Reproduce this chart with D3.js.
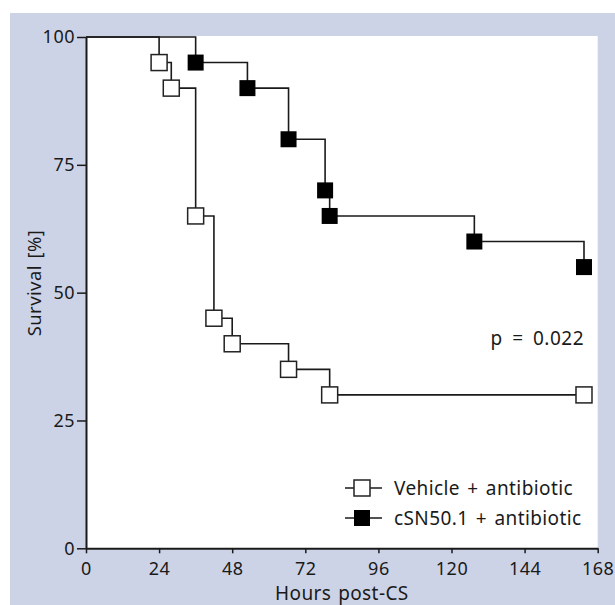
<!DOCTYPE html>
<html>
<head>
<meta charset="utf-8">
<script src="https://cdn.jsdelivr.net/npm/d3@7"></script>
<style>
  body { margin: 0; background: #fff; }
  text { font-family: "Noto Sans", sans-serif; fill: #1a1a1a; }
</style>
</head>
<body>
<div id="content"></div>
<script>
// Kaplan-Meier steps
const vehicleHours = [0, 24, 28, 36, 42, 48, 66.5, 80, 163.5];
const vehicleSurvival = [100, 95, 90, 65, 45, 40, 35, 30, 30];
const csnHours = [0, 36, 53, 66.5, 78.5, 80, 127.5, 163.5];
const csnSurvival = [100, 95, 90, 80, 70, 65, 60, 55];
const xTicks = [0, 24, 48, 72, 96, 120, 144, 168];
const yTicks = [0, 25, 50, 75, 100];
const seriesNames = ['Vehicle + antibiotic', 'cSN50.1 + antibiotic'];
const pValue = 'p = 0.022';

const width = 615, height = 605;
const margin = { left: 86, right: 17.3, top: 37, bottom: 56.7 };

const svg = d3.select('#content').append('svg')
  .attr('width', width)
  .attr('height', height);

// grey-blue panel + white plot area
svg.append('rect').attr('x', 10).attr('y', 13)
  .attr('width', width - 10).attr('height', height - 13)
  .attr('fill', '#cdd3e6');

const x = d3.scaleLinear().domain([0, 168]).range([margin.left, width - margin.right]);
const y = d3.scaleLinear().domain([0, 100]).range([height - margin.bottom, margin.top]);

svg.append('rect')
  .attr('x', x(0)).attr('y', 36)
  .attr('width', x(168) - x(0)).attr('height', y(0) - 36)
  .attr('fill', '#fff');

const series = [
  { name: seriesNames[0], pts: vehicleHours.map((h, i) => [h, vehicleSurvival[i]]), fill: '#fff' },
  { name: seriesNames[1], pts: csnHours.map((h, i) => [h, csnSurvival[i]]), fill: '#000' },
];

const line = d3.line()
  .x(d => x(d[0]))
  .y(d => y(d[1]))
  .curve(d3.curveStepAfter);

const ms = 16;
series.forEach(s => {
  svg.append('path')
    .attr('d', line(s.pts))
    .attr('fill', 'none')
    .attr('stroke', '#1a1a1a')
    .attr('stroke-width', 1.6);
});
series.forEach(s => {
  svg.selectAll(null).data(s.pts.slice(1)).enter().append('rect')
    .attr('x', d => x(d[0]) - ms / 2)
    .attr('y', d => y(d[1]) - ms / 2)
    .attr('width', ms).attr('height', ms)
    .attr('fill', s.fill)
    .attr('stroke', s.fill === '#000' ? 'none' : '#222')
    .attr('stroke-width', 1.5);
});

// axes
const yAxis = svg.append('g')
  .attr('transform', `translate(${x(0)},0)`)
  .call(d3.axisLeft(y).tickValues(yTicks).tickSize(9).tickSizeOuter(0).tickPadding(2));
const xAxis = svg.append('g')
  .attr('transform', `translate(0,${y(0)})`)
  .call(d3.axisBottom(x).tickValues(xTicks).tickSize(5).tickSizeOuter(0).tickPadding(9));
[xAxis, yAxis].forEach(g => {
  g.select('.domain').attr('stroke', '#1a1a1a').attr('stroke-width', 2);
  g.selectAll('.tick line').attr('stroke', '#1a1a1a').attr('stroke-width', 1.5);
  g.selectAll('.tick text')
    .attr('font-size', 18).attr('letter-spacing', 0.5)
    .attr('font-family', '"Noto Sans", sans-serif').attr('fill', '#1a1a1a');
});

svg.append('text')
  .attr('x', (x(0) + x(168)) / 2).attr('y', 600)
  .attr('text-anchor', 'middle').attr('font-size', 19)
  .attr('letter-spacing', 0.4).attr('word-spacing', 1.5)
  .text('Hours post-CS');

svg.append('text')
  .attr('transform', 'translate(41,283) rotate(-90)')
  .attr('text-anchor', 'middle').attr('font-size', 18.5)
  .attr('letter-spacing', 0.4).attr('word-spacing', 1.5)
  .text('Survival [%]');

svg.append('text')
  .attr('x', 584).attr('y', 345)
  .attr('text-anchor', 'end').attr('font-size', 19)
  .attr('letter-spacing', 0.5).attr('word-spacing', 4)
  .text(pValue);

// legend
const legend = svg.selectAll('g.legend').data(series).enter().append('g')
  .attr('class', 'legend')
  .attr('transform', (d, i) => `translate(362,${488 + i * 30})`);
legend.append('line')
  .attr('x1', -17).attr('x2', 20).attr('y1', 0).attr('y2', 0)
  .attr('stroke', '#1a1a1a').attr('stroke-width', 1.6);
legend.append('rect')
  .attr('x', -ms / 2).attr('y', -ms / 2).attr('width', ms).attr('height', ms)
  .attr('fill', d => d.fill)
  .attr('stroke', d => d.fill === '#000' ? 'none' : '#222')
  .attr('stroke-width', 1.5);
legend.append('text')
  .attr('x', 32).attr('y', 7)
  .attr('font-size', 19)
  .attr('letter-spacing', 0.4).attr('word-spacing', 2)
  .text(d => d.name);
</script>
</body>
</html>
